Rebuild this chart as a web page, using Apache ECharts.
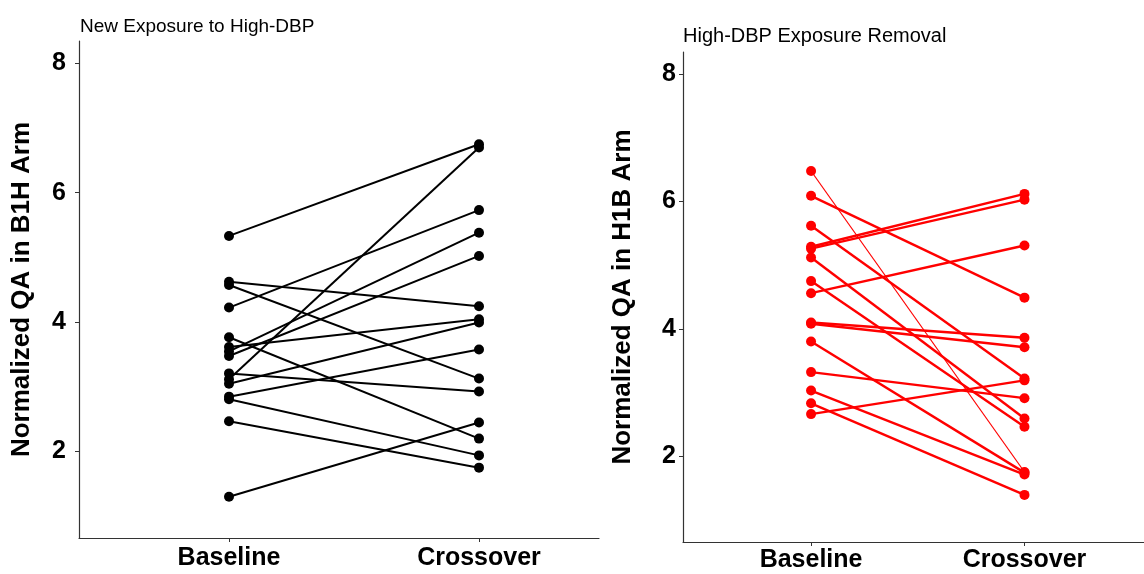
<!DOCTYPE html>
<html>
<head>
<meta charset="utf-8">
<script src="https://cdn.jsdelivr.net/npm/echarts@6/dist/echarts.min.js"></script>
<style>
  html, body { margin: 0; padding: 0; background: #fff; }
  #chart { width: 1144px; height: 574px; }
</style>
</head>
<body>
<div id="chart"></div>
<script>
// categories on the x axis (placed at 1 and 2)
const categories = ['Baseline', 'Crossover'];
const yTicks = [2, 4, 6, 8];

// B1H arm: new exposure to high-DBP (one subject per index)
const b1hBaseline  = [5.33, 4.62, 4.57, 4.22, 3.76, 3.61, 3.54, 3.47, 3.20, 3.11, 3.04, 2.84, 2.80, 2.46, 1.29];
const b1hCrossover = [6.75, 4.24, 3.12, 5.73, 2.19, 4.04, 5.38, 5.02, 2.92, 6.70, 3.99, 3.57, 1.93, 1.74, 2.44];

// H1B arm: high-DBP exposure removal
const h1bBaseline  = [6.48, 6.09, 5.62, 5.29, 5.26, 5.12, 4.75, 4.56, 4.10, 4.08, 3.80, 3.32, 3.03, 2.83, 2.66];
const h1bCrossover = [1.75, 4.49, 3.22, 6.12, 6.03, 2.59, 2.46, 5.31, 3.86, 3.71, 1.74, 2.91, 1.71, 1.39, 3.19];

var font = 'Liberation Sans, Arial, sans-serif';
var chart = echarts.init(document.getElementById('chart'), null, { renderer: 'canvas' });

function xAxisFor(idx, maxV, margin) {
  return {
    type: 'value', gridIndex: idx, min: 0.4, max: maxV,
    splitLine: { show: false },
    axisLine: { show: true, lineStyle: { color: '#333', width: 1.2 } },
    axisTick: { show: true, length: 4, customValues: [1, 2], lineStyle: { color: '#333' } },
    axisLabel: {
      customValues: [1, 2], margin: margin,
      formatter: function (v) { return categories[Math.round(v) - 1]; },
      color: '#000', fontSize: 25, fontWeight: 'bold', fontFamily: font
    }
  };
}

function yAxisFor(idx, name, nameGap, margin) {
  return {
    type: 'value', gridIndex: idx, min: 0.65, max: 8.35,
    name: name, nameLocation: 'middle', nameGap: nameGap,
    nameTextStyle: { color: '#000', fontSize: 26, fontWeight: 'bold', fontFamily: font },
    splitLine: { show: false },
    axisLine: { show: true, lineStyle: { color: '#333', width: 1.2 } },
    axisTick: { show: true, length: 4, customValues: yTicks, lineStyle: { color: '#333' } },
    axisLabel: {
      customValues: yTicks, margin: margin,
      color: '#000', fontSize: 25, fontWeight: 'bold', fontFamily: font
    }
  };
}

function pairSeries(base, cross, color, idx, width, thinIdx) {
  return base.map(function (b, i) {
    var w = (i === thinIdx) ? 1.2 : width;
    return {
      type: 'line', xAxisIndex: idx, yAxisIndex: idx,
      data: [[1, b], [2, cross[i]]],
      symbol: 'circle', symbolSize: 10,
      lineStyle: { color: color, width: w },
      itemStyle: { color: color },
      silent: true, animation: false
    };
  });
}

var option = {
  backgroundColor: '#fff',
  title: [
    { text: 'New Exposure to High-DBP', left: 75, top: 12,
      textStyle: { color: '#000', fontSize: 19, fontWeight: 'normal', fontFamily: font } },
    { text: 'High-DBP Exposure Removal', left: 678, top: 21,
      textStyle: { color: '#000', fontSize: 20, fontWeight: 'normal', fontFamily: font } }
  ],
  grid: [
    { left: 79, right: 545, top: 41, bottom: 36 },
    { left: 683, right: 0, top: 52, bottom: 32 }
  ],
  xAxis: [xAxisFor(0, 2.48, 8), xAxisFor(1, 2.56, 6)],
  yAxis: [
    yAxisFor(0, 'Normalized QA in B1H Arm', 44, 13),
    yAxisFor(1, 'Normalized QA in H1B Arm', 47, 7)
  ],
  series: pairSeries(b1hBaseline, b1hCrossover, '#000', 0, 2, -1)
    .concat(pairSeries(h1bBaseline, h1bCrossover, '#ff0000', 1, 2.4, 0))
};

option && chart.setOption(option);
</script>
</body>
</html>
